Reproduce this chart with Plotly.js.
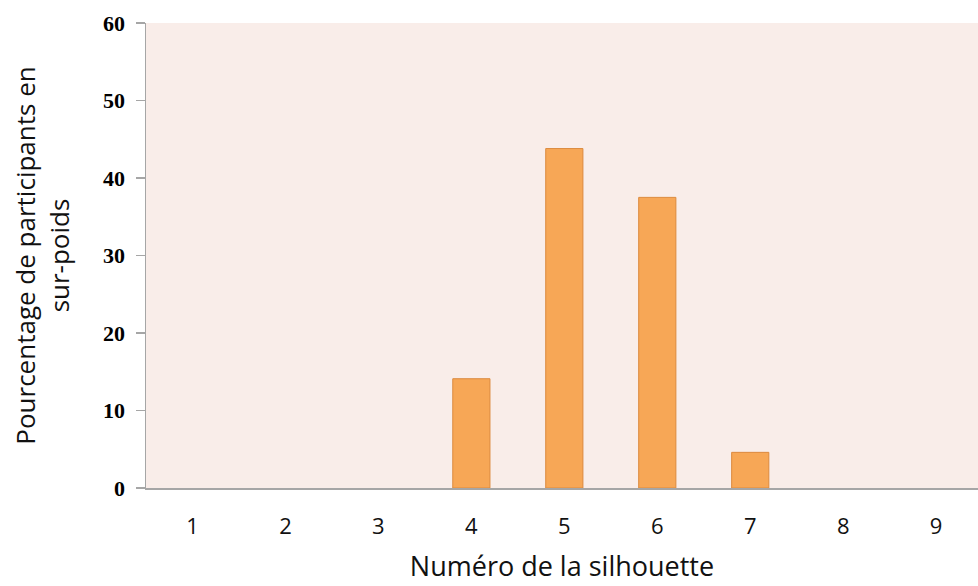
<!DOCTYPE html>
<html><head><meta charset="utf-8">
<script src="https://cdn.plot.ly/plotly-3.0.1.min.js"></script>
<style>html,body{margin:0;padding:0;background:#fff}</style>
</head><body>
<div id="chart" style="width:978px;height:586px"></div>
<script>
const categories = ['1','2','3','4','5','6','7','8','9'];
const values = [0, 0, 0, 14.1, 43.8, 37.5, 4.6, 0, 0];
const yTicks = [0, 10, 20, 30, 40, 50, 60];

Plotly.newPlot('chart', [{
  type: 'bar',
  x: categories,
  y: values,
  width: 0.4,
  marker: {color: '#F7A756', line: {color: '#DC8A3E', width: values.map(v => v > 0 ? 1 : 0)}},
  hoverinfo: 'skip'
}], {
  width: 978, height: 586,
  margin: {l: 146, r: 0, t: 23, b: 98},
  paper_bgcolor: '#ffffff',
  plot_bgcolor: '#F9EDE9',
  showlegend: false,
  xaxis: {
    type: 'category',
    range: [-0.5, 8.45],
    showgrid: false, zeroline: false,
    showline: true, linecolor: '#A6A6A6', linewidth: 2,
    ticks: '',
    ticklabelstandoff: 18,
    tickfont: {family: 'Open Sans, Liberation Sans, sans-serif', size: 22, color: '#111'},
    title: {text: 'Numéro de la silhouette', standoff: 18,
      font: {family: 'Open Sans, Liberation Sans, sans-serif', size: 27, color: '#111'}}
  },
  yaxis: {
    range: [0, 60],
    tickvals: yTicks,
    ticktext: yTicks.map(String),
    showgrid: false, zeroline: false,
    showline: true, linecolor: '#A6A6A6', linewidth: 1.5,
    ticks: 'outside', ticklen: 9, tickcolor: '#A6A6A6', tickwidth: 1.5,
    ticklabelstandoff: 6,
    tickfont: {family: 'Liberation Serif, DejaVu Serif, serif', size: 22, color: '#000', weight: 'bold'},
    title: {text: 'Pourcentage de participants en<br>sur-poids', standoff: 26,
      font: {family: 'Open Sans, Liberation Sans, sans-serif', size: 26, color: '#111'}}
  }
}, {displayModeBar: false, staticPlot: true});
</script>
</body></html>
